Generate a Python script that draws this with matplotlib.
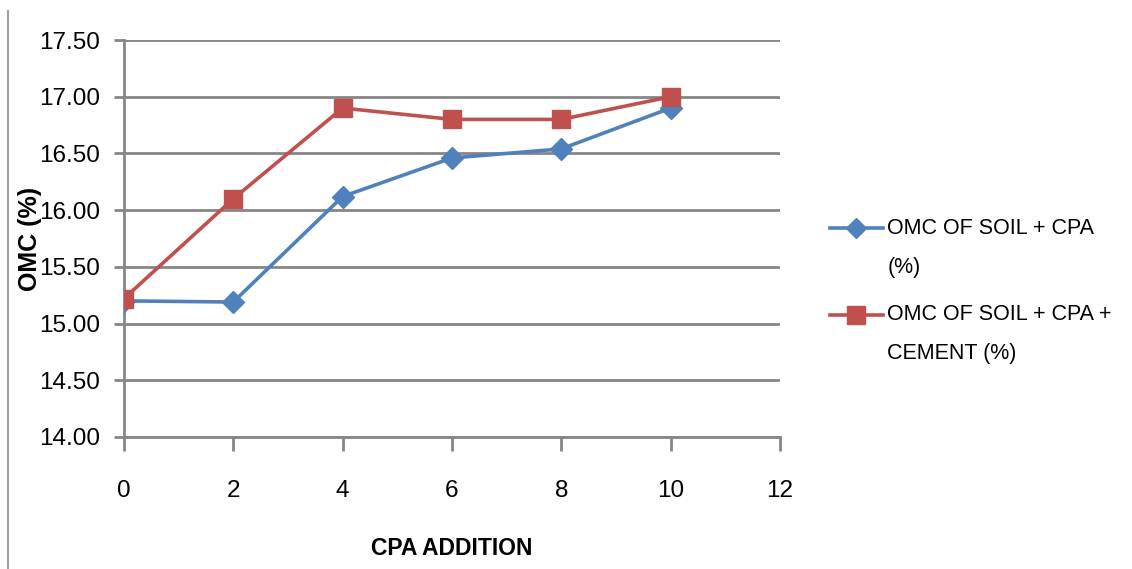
import matplotlib.pyplot as plt
from matplotlib.lines import Line2D

# CPA addition (%) and optimum moisture content readings
cpa_addition = [0, 2, 4, 6, 8, 10]
omc_soil_cpa = [15.20, 15.19, 16.12, 16.46, 16.54, 16.90]
omc_soil_cpa_cement = [15.22, 16.10, 16.90, 16.80, 16.80, 17.00]

series_labels = ["OMC OF SOIL + CPA\n(%)", "OMC OF SOIL + CPA +\nCEMENT (%)"]
x_ticks = [0, 2, 4, 6, 8, 10, 12]
y_ticks = [14.0, 14.5, 15.0, 15.5, 16.0, 16.5, 17.0, 17.5]

plt.rcParams['font.family'] = ['Liberation Sans', 'DejaVu Sans']
grey = '#868686'
blue = '#4F81BD'
red = '#C0504D'

fig = plt.figure(figsize=(11.32, 5.69), dpi=100)
ax = fig.add_axes([0.1095, 0.232, 0.5795, 0.6977])

ax.plot(cpa_addition, omc_soil_cpa, color=blue, lw=2.6, marker='D',
        ms=11, zorder=3)
ax.plot(cpa_addition, omc_soil_cpa_cement, color=red, lw=2.6, marker='s',
        ms=12.5, zorder=4)

ax.set_xlim(0, 12)
ax.set_ylim(14, 17.5)
ax.set_xticks(x_ticks)
ax.set_yticks(y_ticks)
ax.set_yticklabels([f"{v:.2f}" for v in y_ticks])
ax.yaxis.grid(True, color=grey, lw=2)
ax.set_axisbelow(True)
ax.tick_params(axis='y', length=7, width=2, color=grey, pad=10, labelsize=17.5)
ax.tick_params(axis='x', length=10, width=2, color=grey, pad=21, labelsize=17.5)

for side in ['top', 'right']:
    ax.spines[side].set_visible(False)
for side in ['left', 'bottom']:
    ax.spines[side].set_color(grey)
    ax.spines[side].set_linewidth(2)

ax.set_xlabel("CPA ADDITION", fontsize=16.5, fontweight='bold', labelpad=25)
ax.set_ylabel("OMC (%)", fontsize=18, fontweight='bold')
ax.yaxis.set_label_coords(-0.125, 0.5)

# legend drawn by hand so the key sits on the first line of each label
legend_rows = [(0.599, blue, 'D', 10), (0.447, red, 's', 12.5)]
for (y, color, marker, ms), text in zip(legend_rows, series_labels):
    fig.add_artist(Line2D([0.733, 0.780], [y, y], color=color, lw=2.6))
    fig.add_artist(Line2D([0.7565], [y], color=color, marker=marker,
                          ms=ms, lw=0))
    fig.text(0.784, y + 0.018, text, fontsize=15.5, va='top', ha='left',
             linespacing=2.1)

# outer chart-area border on the left
fig.add_artist(Line2D([0.007, 0.007], [0.0, 0.98], color='#a0a0a0', lw=1.5))

fig.savefig("out.png", dpi=100)
